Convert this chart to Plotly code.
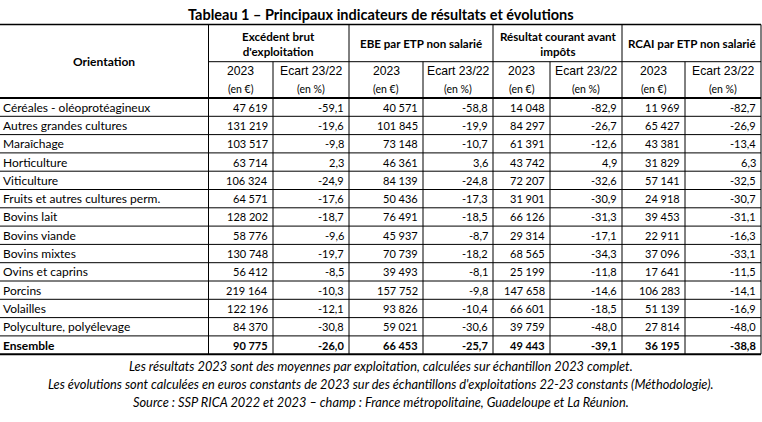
import plotly.graph_objects as go

# ---------------- data ----------------
title = "Tableau 1 – Principaux indicateurs de résultats et évolutions"
orientations = ["Céréales - oléoprotéagineux", "Autres grandes cultures", "Maraîchage",
                "Horticulture", "Viticulture", "Fruits et autres cultures perm.",
                "Bovins lait", "Bovins viande", "Bovins mixtes", "Ovins et caprins",
                "Porcins", "Volailles", "Polyculture, polyélevage", "Ensemble"]
group_headers = ["Excédent brut<br>d'exploitation", "EBE par ETP non salarié",
                 "Résultat courant avant<br>impôts", "RCAI par ETP non salarié"]
sub_headers = ["2023", "Ecart 23/22"]
unit_headers = ["(en €)", "(en %)"]

ebe_2023 = [47619, 131219, 103517, 63714, 106324, 64571, 128202, 58776, 130748, 56412, 219164, 122196, 84370, 90775]
ebe_ecart = [-59.1, -19.6, -9.8, 2.3, -24.9, -17.6, -18.7, -9.6, -19.7, -8.5, -10.3, -12.1, -30.8, -26.0]
ebe_etp_2023 = [40571, 101845, 73148, 46361, 84139, 50436, 76491, 45937, 70739, 39493, 157752, 93826, 59021, 66453]
ebe_etp_ecart = [-58.8, -19.9, -10.7, 3.6, -24.8, -17.3, -18.5, -8.7, -18.2, -8.1, -9.8, -10.4, -30.6, -25.7]
rcai_2023 = [14048, 84297, 61391, 43742, 72207, 31901, 66126, 29314, 68565, 25199, 147658, 66601, 39759, 49443]
rcai_ecart = [-82.9, -26.7, -12.6, 4.9, -32.6, -30.9, -31.3, -17.1, -34.3, -11.8, -14.6, -18.5, -48.0, -39.1]
rcai_etp_2023 = [11969, 65427, 43381, 31829, 57141, 24918, 39453, 22911, 37096, 17641, 106283, 51139, 27814, 36195]
rcai_etp_ecart = [-82.7, -26.9, -13.4, 6.3, -32.5, -30.7, -31.1, -16.3, -33.1, -11.5, -14.1, -16.9, -48.0, -38.8]

footnotes = [
    "Les résultats 2023 sont des moyennes par exploitation, calculées sur échantillon 2023 complet.",
    "Les évolutions sont calculées en euros constants de 2023 sur des échantillons d'exploitations 22-23 constants (Méthodologie).",
    "Source : SSP RICA 2022 et 2023 – champ : France métropolitaine, Guadeloupe et La Réunion.",
]

# ---------------- layout geometry ----------------
W, H = 762, 422
col_edges = [0, 208.5, 273, 349, 423, 493, 550, 622, 685, 761]
y_top = 24.5
y_sub = 61.7
y_head_bot = 98
row_h = 18.3

FONT = "Lato"
SUBFONT = "Liberation Sans"
n = len(orientations)
y_bot = y_head_bot + n * row_h

value_cols = [ebe_2023, ebe_ecart, ebe_etp_2023, ebe_etp_ecart,
              rcai_2023, rcai_ecart, rcai_etp_2023, rcai_etp_ecart]


def fmt(v):
    if isinstance(v, int):
        return f"{v:,}".replace(",", "\u00a0")
    return f"{v:.1f}".replace(".", ",")


fig = go.Figure()
fig.add_trace(go.Scatter(x=[0, W], y=[0, H], mode="markers",
                         marker=dict(opacity=0), hoverinfo="skip", showlegend=False))

ann = []
shapes = []


def hline(x0, x1, y, w):
    shapes.append(dict(type="line", xref="x", yref="y", x0=x0, x1=x1, y0=y, y1=y,
                       line=dict(color="black", width=w)))


def vline(x, y0, y1, w=1):
    shapes.append(dict(type="line", xref="x", yref="y", x0=x, x1=x, y0=y0, y1=y1,
                       line=dict(color="black", width=w)))


# title
ann.append(dict(x=W / 2, y=14, text=f"<b>{title}</b>", showarrow=False,
                font=dict(family=FONT, size=14.5, color="black"),
                xanchor="center", yanchor="middle"))

# header
ann.append(dict(x=col_edges[1] / 2, y=(y_top + y_head_bot) / 2, text="<b>Orientation</b>",
                showarrow=False, font=dict(family=FONT, size=12, color="black"),
                xanchor="center", yanchor="middle"))
for g, gh in enumerate(group_headers):
    xl, xr = col_edges[1 + 2 * g], col_edges[3 + 2 * g]
    ann.append(dict(x=(xl + xr) / 2, y=(y_top + y_sub) / 2 + 0.5, text=f"<b>{gh}</b>",
                    showarrow=False, font=dict(family=FONT, size=11.6, color="black"),
                    xanchor="center", yanchor="middle"))
    for k in range(2):
        cl, cr = col_edges[1 + 2 * g + k], col_edges[2 + 2 * g + k]
        ann.append(dict(x=(cl + cr) / 2, y=71, text=sub_headers[k], showarrow=False,
                        font=dict(family=SUBFONT, size=12.2, color="black"),
                        xanchor="center", yanchor="middle"))
        ann.append(dict(x=(cl + cr) / 2, y=89, text=unit_headers[k], showarrow=False,
                        font=dict(family=FONT, size=10.5, color="black"),
                        xanchor="center", yanchor="middle"))

# body
for i, name in enumerate(orientations):
    yc = y_head_bot + (i + 0.5) * row_h
    bold = (i == n - 1)
    t = f"<b>{name}</b>" if bold else name
    ann.append(dict(x=1, y=yc, text=t, showarrow=False,
                    font=dict(family=FONT, size=12, color="black"),
                    xanchor="left", yanchor="middle"))
    for c, col in enumerate(value_cols):
        s = fmt(col[i])
        if bold:
            s = f"<b>{s}</b>"
        ann.append(dict(x=col_edges[c + 2] - 3, y=yc, text=s, showarrow=False,
                        font=dict(family=FONT, size=11, color="black"),
                        xanchor="right", yanchor="middle"))

# footnotes
for j, fn in enumerate(footnotes):
    ann.append(dict(x=W / 2, y=365.5 + j * 18.3, text=f"<i>{fn}</i>", showarrow=False,
                    font=dict(family=FONT, size=12.8, color="black"),
                    xanchor="center", yanchor="middle"))

# lines
hline(0, col_edges[-1], y_top, 1.5)
hline(col_edges[1], col_edges[-1], y_sub, 1)
hline(0, col_edges[-1], y_head_bot, 2)
for i in range(1, n):
    hline(0, col_edges[-1], y_head_bot + i * row_h, 1)
hline(0, col_edges[-1], y_bot, 2)
for k, x in enumerate(col_edges[1:]):
    if k % 2 == 0:
        vline(x, y_top, y_bot)
    else:
        vline(x, y_sub, y_bot)

fig.update_layout(
    width=W, height=H,
    margin=dict(l=0, r=0, t=0, b=0),
    paper_bgcolor="white", plot_bgcolor="white",
    xaxis=dict(range=[0, W], visible=False, fixedrange=True),
    yaxis=dict(range=[H, 0], visible=False, fixedrange=True),
    annotations=ann, shapes=shapes,
)
fig.write_html("out.html", config={"displayModeBar": False},
               post_script="document.body.style.margin='0';document.body.style.overflow='hidden';")
